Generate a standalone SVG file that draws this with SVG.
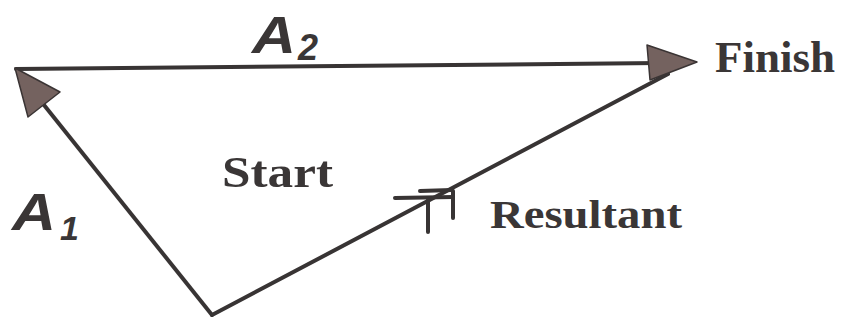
<svg xmlns="http://www.w3.org/2000/svg" width="843" height="325" viewBox="0 0 843 325">
<style>
.ln{stroke:#383434;stroke-width:4;fill:none;stroke-linecap:round}
.head{fill:#74625f;stroke:#3a3434;stroke-width:1.5;stroke-linejoin:round}
.lbl{font-family:"Liberation Serif",serif;font-weight:bold;fill:#3a3636}
.vec{font-family:"Liberation Sans",sans-serif;font-weight:bold;font-style:italic;fill:#3a3636}
</style>
<rect width="843" height="325" fill="#ffffff"/>
<g id="connectors">
<line class="ln" x1="212" y1="315" x2="40" y2="100"/>
<line class="ln" x1="16" y1="69" x2="660" y2="63"/>
<line class="ln" x1="212" y1="315" x2="668" y2="74"/>
<polygon class="head" points="15,68 60,92 28,117"/>
<polygon class="head" points="697,62 647,45 650,80"/>
<g id="resultant-mark">
<line class="ln" x1="395" y1="198" x2="453" y2="197"/>
<line class="ln" x1="420" y1="191" x2="452" y2="190"/>
<line class="ln" x1="428" y1="200" x2="428" y2="232"/>
<line class="ln" x1="453" y1="191" x2="453" y2="218"/>
</g>
</g>
<g id="A2"><text class="vec" x="252" y="53" font-size="52" textLength="44" lengthAdjust="spacingAndGlyphs">A</text><text class="vec" x="298" y="60" font-size="36">2</text></g>
<g id="A1"><text class="vec" x="12" y="230" font-size="52" textLength="44" lengthAdjust="spacingAndGlyphs">A</text><text class="vec" x="60" y="240" font-size="34">1</text></g>
<g id="finish"><text class="lbl" x="715" y="72" font-size="44" textLength="120" lengthAdjust="spacingAndGlyphs">Finish</text></g>
<g id="start"><text class="lbl" x="222" y="187" font-size="45" textLength="111" lengthAdjust="spacingAndGlyphs">Start</text></g>
<g id="resultant"><text class="lbl" x="490" y="228" font-size="41" textLength="192" lengthAdjust="spacingAndGlyphs">Resultant</text></g>
</svg>
